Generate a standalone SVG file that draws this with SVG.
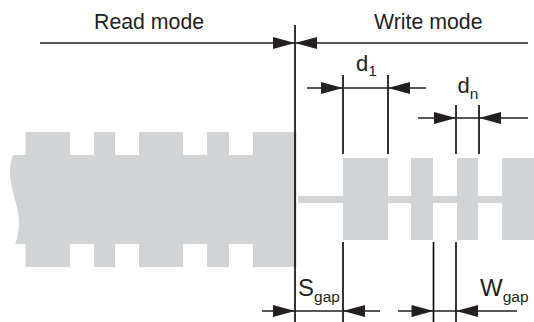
<svg xmlns="http://www.w3.org/2000/svg" width="534" height="322" viewBox="0 0 534 322">
<style>
.g{fill:#d1d3d4}
.l{stroke:#231f20;stroke-width:1.5;fill:none}
.v{stroke:#000;stroke-width:1.6;fill:none}
.h{fill:#231f20}
text{font-family:"Liberation Sans",Arial,sans-serif;fill:#231f20}
.t{font-size:21.300px}
.d{font-size:22px}
.s{font-size:15.500px}
.b{font-size:24px}
</style>
<defs>
<polygon id="r" class="h" points="-22,-6 0,0 -22,6"/>
<polygon id="e" class="h" points="22,-6 0,0 22,6"/>
</defs>
<g id="read-track">
<path class="g" d="M25.500 132H70V155H94V132H115V155H139V132H183V155H207V132H229V155H253V132H296.500V267H253V244H229V267H207V244H183V267H139V244H115V267H94V244H70V267H25.500V244H15C18 238 19 230 19 222C19 206 10 190 10 172C10 165 11 160 13 155H25.500Z"/>
</g>
<g id="write-track">
<rect class="g" x="298" y="196" width="205" height="7"/>
<rect class="g" x="343" y="158" width="45" height="82"/>
<rect class="g" x="411" y="158" width="22" height="82"/>
<rect class="g" x="457" y="158" width="21" height="82"/>
<rect class="g" x="502" y="158" width="32" height="82"/>
</g>
<g id="connectors">
<path class="v" d="M295 25V322M343 75V154M388 75V154M456 105V154M479 105V154M343 242V322M433.500 242V322M456 242V322"/>
<path class="l" d="M40 43H528M307 88H426M418 118H528M262 311H380M398 311H517"/>
<use href="#r" x="295" y="43"/>
<use href="#e" x="295" y="43"/>
<use href="#r" x="343" y="88"/>
<use href="#e" x="388" y="88"/>
<use href="#r" x="456" y="118"/>
<use href="#e" x="479" y="118"/>
<use href="#r" x="295" y="311"/>
<use href="#e" x="343" y="311"/>
<use href="#r" x="433.500" y="311"/>
<use href="#e" x="456" y="311"/>
</g>
<g id="label-read"><text class="t" x="94" y="29">Read mode</text></g>
<g id="label-write"><text class="t" x="374" y="29">Write mode</text></g>
<g id="label-d1"><text class="d" x="356" y="71">d<tspan class="s" dy="5">1</tspan></text></g>
<g id="label-dn"><text class="d" x="457.500" y="93">d<tspan class="s" dy="6">n</tspan></text></g>
<g id="label-sgap"><text class="b" x="298" y="296">S<tspan class="s" dy="6">gap</tspan></text></g>
<g id="label-wgap"><text class="b" x="480" y="296">W<tspan class="s" dy="6">gap</tspan></text></g>
</svg>
